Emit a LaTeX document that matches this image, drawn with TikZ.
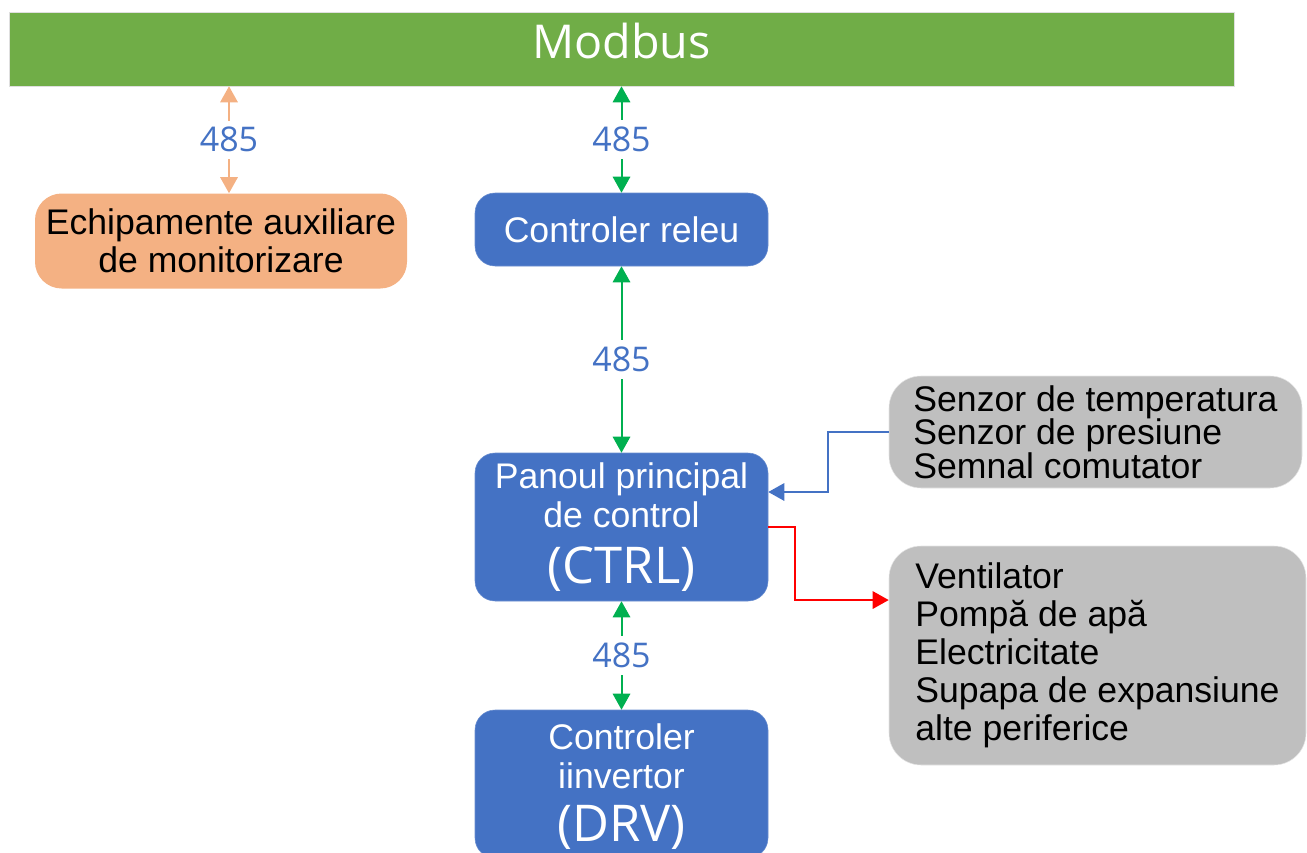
\documentclass[tikz,border=0pt]{standalone}
\usepackage{fontspec}
\setmainfont{Liberation Sans}
\newfontfamily\osans{Open Sans}
\usetikzlibrary{arrows.meta}

\definecolor{busgreen}{HTML}{70AD47}
\definecolor{boxblue}{HTML}{4472C4}
\definecolor{auxorange}{HTML}{F4B183}
\definecolor{linkgreen}{HTML}{00B050}
\definecolor{boxgray}{HTML}{BFBFBF}
\def\px{0.75pt}

\begin{document}
\begin{tikzpicture}[x=0.75pt,y=-0.75pt,
  busbar/.style={fill=busgreen,draw=gray!25,inner sep=0pt,minimum width=1225*\px,minimum height=74*\px,
    text=white,text depth=13pt,font=\osans\fontsize{35}{40}\selectfont},
  box/.style={inner sep=0pt,align=center,font=\fontsize{26.7}{29}\selectfont},
  bluebox/.style={box,fill=boxblue,draw=boxblue!80!white,text=white,rounded corners=15pt,minimum width=293*\px},
  graybox/.style={box,fill=boxgray,draw=gray!20,align=left,rounded corners=24pt},
  lbl/.style={fill=white,text=boxblue,inner xsep=2pt,inner ysep=5pt,font=\osans\fontsize{25.5}{28}\selectfont},
  link/.style={line width=1.5pt,{Triangle[width=13pt,length=12pt]}-{Triangle[width=13pt,length=12pt]}},
  feed/.style={line width=1.5pt,-{Triangle[width=13pt,length=12pt]}}]
  \useasboundingbox (0,0) rectangle (1307,853);

  % bus and boxes
  \node[busbar] (modbus) at (621.5,49) {Modbus};
  \node[box,fill=auxorange,rounded corners=20pt,minimum width=372*\px,minimum height=95*\px,
    font=\fontsize{26.7}{28.5}\selectfont] (aux) at (221,241) {Echipamente auxiliare\\de monitorizare};
  \node[bluebox,minimum height=73*\px] (releu) at (621.5,229.5) {Controler releu};
  \node[bluebox,minimum height=148*\px] (ctrl) at (621.5,527)
    {Panoul principal\\de control\\[13pt]{\osans\fontsize{38}{40}\selectfont(CTRL)}};
  \node[bluebox,minimum height=148*\px,text depth=2pt] (drv) at (621.5,784)
    {Controler\\iinvertor\\[11pt]{\osans\fontsize{38}{40}\selectfont(DRV)}};
  \node[graybox,minimum width=413*\px,minimum height=112*\px,font=\fontsize{26.7}{25}\selectfont] (sens) at (1095.5,432)
    {Senzor de temperatura\\Senzor de presiune\\Semnal comutator};
  \node[graybox,minimum width=417*\px,minimum height=219*\px,font=\fontsize{26.7}{28.5}\selectfont] (outs) at (1097.5,655.5)
    {Ventilator\\Pompă de apă\\Electricitate\\Supapa de expansiune\\alte periferice};

  % 485 links
  \draw[link,auxorange] ([xshift=8*\px]aux.north) -- ([xshift=8*\px]aux.north |- modbus.south)
    node[lbl,midway] {485};
  \draw[link,linkgreen] (releu.north) -- (releu.north |- modbus.south) node[lbl,midway] {485};
  \draw[link,linkgreen] (ctrl.north) -- (releu.south) node[lbl,midway] {485};
  \draw[link,linkgreen] (drv.north) -- (ctrl.south) node[lbl,midway] {485};

  % inputs and outputs
  \draw[feed,boxblue] (sens.west) -- ++(-61,0) |- ([yshift=26.25pt]ctrl.east);
  \draw[feed,red] (ctrl.east) -- ++(27,0) |- ([yshift=41.6pt]outs.west);
\end{tikzpicture}
\end{document}
